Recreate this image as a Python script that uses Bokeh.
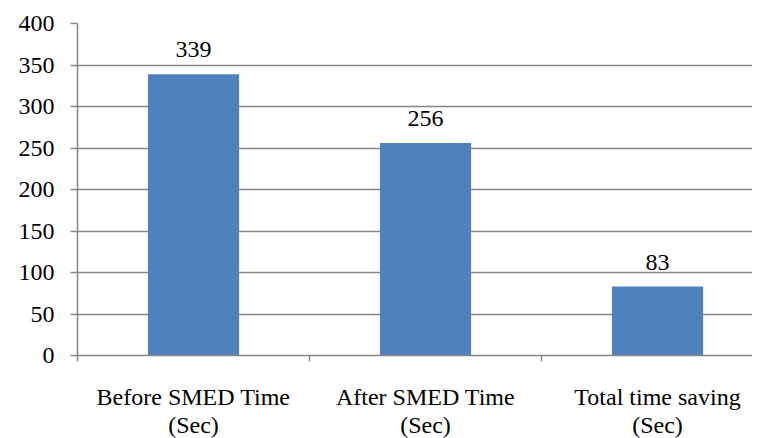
from bokeh.plotting import figure
from bokeh.models import FixedTicker, ColumnDataSource, Range1d
from bokeh.embed import file_html
from bokeh.resources import INLINE
from bokeh.core.properties import value

categories = ["Before SMED Time\n(Sec)", "After SMED Time\n(Sec)", "Total time saving\n(Sec)"]
values = [339, 256, 83]
y_ticks = [0, 50, 100, 150, 200, 250, 300, 350, 400]

FONT = "serif"
GRID = "#868686"
BAR = "#4F81BD"

xs = [i + 0.5 for i in range(len(categories))]
src = ColumnDataSource(dict(x=xs, top=values, label=[str(v) for v in values]))

p = figure(frame_width=675, frame_height=332, output_backend="svg", toolbar_location=None,
           x_range=Range1d(0, 675 / 232), y_range=Range1d(0, 400),
           min_border_left=77, min_border_top=23, min_border_right=0, min_border_bottom=0)
p.outline_line_color = None
p.background_fill_color = "white"

p.vbar(x="x", top="top", width=0.393, bottom=0, source=src, color=BAR, line_color=None)
p.text(x="x", y="top", text="label", source=src, text_align="center", text_baseline="bottom",
       y_offset=-17, text_font=value(FONT), text_font_size="24px", text_color="black")

p.xgrid.visible = False
p.ygrid.ticker = FixedTicker(ticks=y_ticks)
p.ygrid.grid_line_color = GRID
p.ygrid.grid_line_width = 1.5

ya = p.yaxis[0]
ya.ticker = FixedTicker(ticks=y_ticks)
ya.axis_line_color = GRID
ya.axis_line_width = 1.5
ya.major_tick_line_color = GRID
ya.major_tick_line_width = 1.5
ya.major_tick_out = 7
ya.major_tick_in = 0
ya.minor_tick_line_color = None
ya.major_label_standoff = 16
ya.major_label_text_font = FONT
ya.major_label_text_font_size = "24px"
ya.major_label_text_color = "black"

xa = p.xaxis[0]
xa.ticker = FixedTicker(ticks=xs, minor_ticks=list(range(len(categories) + 1)))
xa.major_label_overrides = {x: c for x, c in zip(xs, categories)}
xa.axis_line_color = GRID
xa.axis_line_width = 1.5
xa.major_tick_line_color = None
xa.major_tick_out = 0
xa.major_tick_in = 0
xa.minor_tick_line_color = GRID
xa.minor_tick_line_width = 1.5
xa.minor_tick_out = 6
xa.minor_tick_in = 0
xa.major_label_standoff = 22
xa.major_label_text_font = FONT
xa.major_label_text_font_size = "24px"
xa.major_label_text_color = "black"
xa.major_label_text_line_height = 1.1

open("out.html", "w").write(file_html(p, INLINE))
